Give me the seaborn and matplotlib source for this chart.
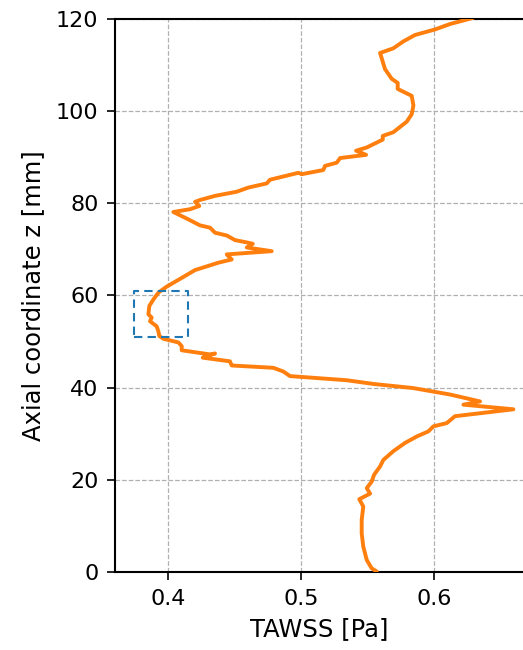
import numpy as np
import pandas as pd
import seaborn as sns
import matplotlib.pyplot as plt

# TAWSS profile along the vessel axis (bottom -> top)
z_mm = [0.1, 0.8, 2.6, 5.5, 8.4, 11.3, 14.2, 15.8, 17.0, 18.2, 19.6, 21.1, 22.9,
        24.3, 26.2, 28.0, 29.4, 30.5, 31.6, 32.3, 33.8, 35.3, 36.3, 37.0, 38.5,
        39.9, 40.8, 41.6, 42.5, 43.5, 44.3, 44.8, 45.7, 46.5, 47.4, 47.2, 48.1,
        49.0, 49.8, 50.6, 51.2, 52.2, 53.3, 54.4, 55.2, 55.9, 57.7, 59.1, 60.6,
        61.9, 63.8, 65.5, 67.1, 67.8, 68.9, 69.6, 70.4, 71.2, 71.5, 72.0, 73.0,
        73.6, 74.7, 75.2, 76.5, 78.1, 78.7, 79.4, 80.3, 80.7, 81.6, 82.5, 83.4,
        84.3, 85.1, 86.6, 86.3, 87.2, 88.1, 88.8, 89.8, 90.5, 91.4, 92.1, 93.8,
        94.6, 95.4, 97.7, 99.3, 101.2, 103.3, 104.8, 106.1, 107.0, 109.1, 112.6,
        113.6, 115.1, 116.5, 117.7, 118.9, 120.2]
tawss_pa = [0.5568, 0.553, 0.5493, 0.5467, 0.5455, 0.5455, 0.5467, 0.5437, 0.5518,
            0.5493, 0.553, 0.5548, 0.5593, 0.5617, 0.5692, 0.578, 0.5868, 0.5955,
            0.5993, 0.6093, 0.6155, 0.6593, 0.6218, 0.6343, 0.6118, 0.5842, 0.5542,
            0.5343, 0.4917, 0.4867, 0.4792, 0.448, 0.4467, 0.4263, 0.4355, 0.4317,
            0.4105, 0.4105, 0.408, 0.3967, 0.3937, 0.393, 0.3917, 0.3867, 0.388,
            0.3855, 0.3862, 0.3892, 0.393, 0.3992, 0.4105, 0.4205, 0.438, 0.448,
            0.4443, 0.478, 0.4593, 0.4638, 0.4593, 0.4505, 0.4443, 0.4355, 0.4317,
            0.4242, 0.4155, 0.4042, 0.4167, 0.4237, 0.4205, 0.4242, 0.4355, 0.4518,
            0.4605, 0.4743, 0.4767, 0.498, 0.5005, 0.5167, 0.518, 0.5268, 0.5293,
            0.5488, 0.5413, 0.5493, 0.5613, 0.5613, 0.5692, 0.5793, 0.583, 0.5843,
            0.583, 0.5725, 0.5725, 0.568, 0.563, 0.5593, 0.5692, 0.5767, 0.5855,
            0.6005, 0.612, 0.629]

# zoom-in region marked with a dashed box
box_x = [0.375, 0.415]
box_z = [51.0, 61.0]

x_ticks = [0.4, 0.5, 0.6]
z_ticks = [0, 20, 40, 60, 80, 100, 120]

df = pd.DataFrame({"tawss": tawss_pa, "z": z_mm})

sns.set_style("ticks")
plt.rcParams["font.family"] = ["DejaVu Sans"]
plt.rcParams.update({"text.color": "black", "axes.labelcolor": "black",
                     "xtick.color": "black", "ytick.color": "black"})

fig = plt.figure(figsize=(5.23, 6.5), dpi=100)
ax = fig.add_axes([0.22, 0.12, 0.78, 0.851])

sns.lineplot(data=df, x="tawss", y="z", sort=False, estimator=None,
             color="tab:orange", linewidth=2.8, ax=ax, zorder=3)

ax.plot([box_x[0], box_x[1], box_x[1], box_x[0], box_x[0]],
        [box_z[0], box_z[0], box_z[1], box_z[1], box_z[0]],
        color="tab:blue", ls=(0, (4, 2.5)), lw=1.5, zorder=4)

ax.set_xlim(0.3605, 0.6665)
ax.set_ylim(0, 120)
ax.set_xticks(x_ticks)
ax.set_yticks(z_ticks)
ax.grid(True, ls="--", color="#b0b0b0", lw=0.9)
ax.set_axisbelow(True)

ax.set_xlabel("TAWSS [Pa]", fontsize=17.5, labelpad=6)
ax.set_ylabel("Axial coordinate z [mm]", fontsize=17.5, labelpad=8)
ax.tick_params(labelsize=16, length=6, width=1.2, pad=6)
ax.spines["right"].set_visible(False)
for side in ["left", "bottom", "top"]:
    ax.spines[side].set_linewidth(1.5)
    ax.spines[side].set_color("black")

fig.savefig("out.png", dpi=100)
